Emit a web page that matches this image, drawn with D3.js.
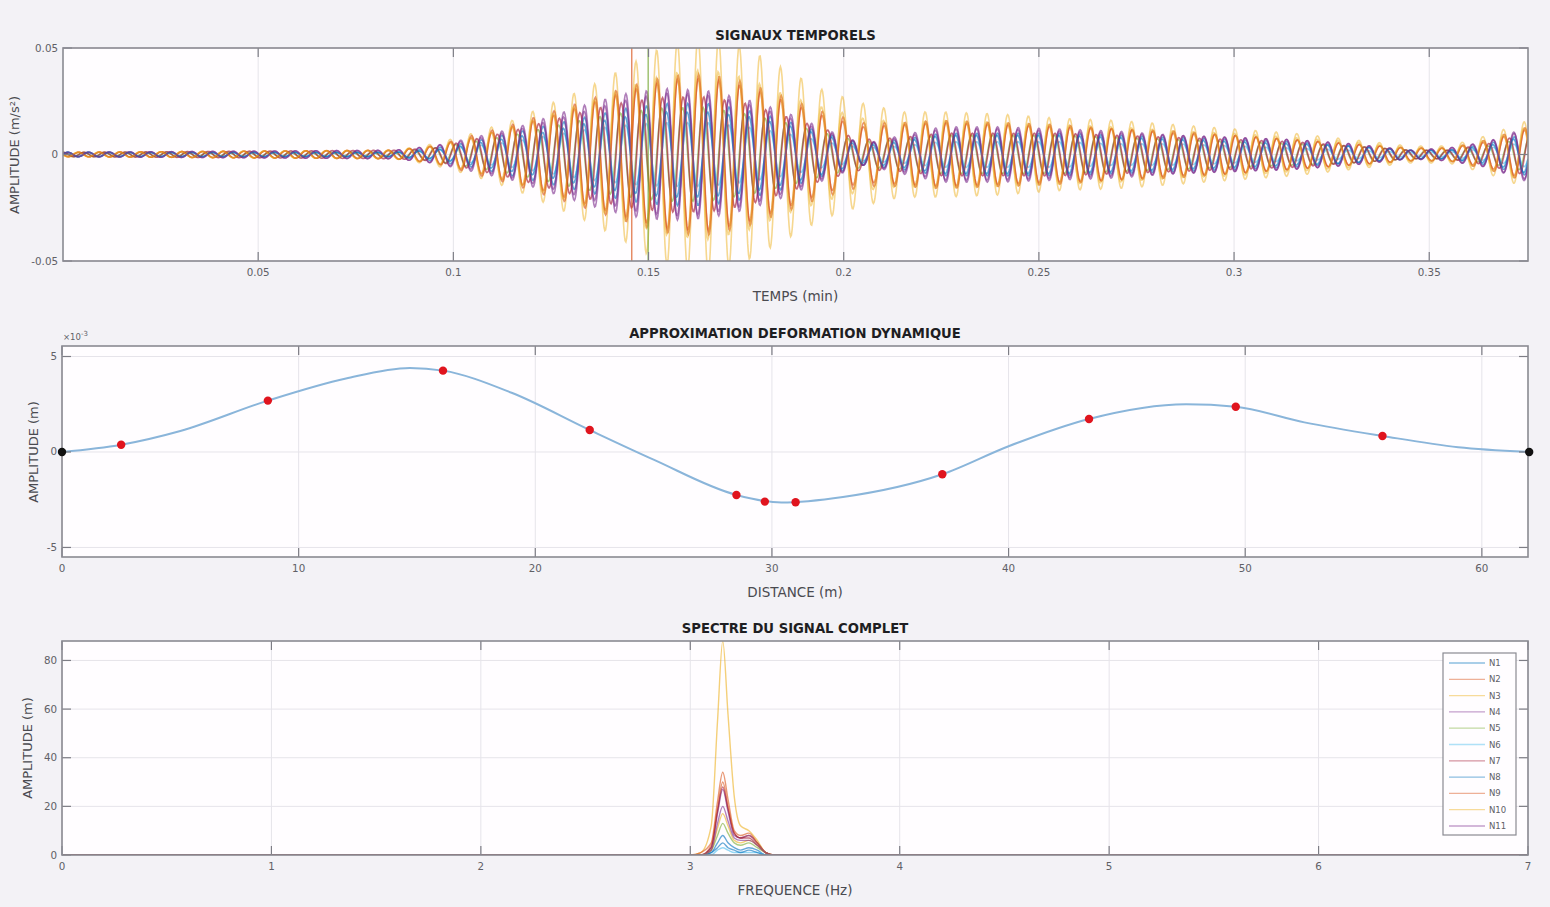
<!DOCTYPE html>
<html>
<head>
<meta charset="utf-8">
<script src="https://cdn.jsdelivr.net/npm/d3@7"></script>
<style>
  body { margin: 0; background: #f3f2f6; }
  svg { display: block; font-family: "DejaVu Sans", "Liberation Sans", Arial, sans-serif; }
</style>
</head>
<body>
<div id="chart"></div>
<script>
// ---- data -----------------------------------------------------------------

const seriesNames = ["N1","N2","N3","N4","N5","N6","N7","N8","N9","N10","N11"]
const colors = ["#0072BD","#D95319","#EDB120","#7E2F8E","#77AC30","#4DBEEE","#A2142F",
                "#0072BD","#D95319","#EDB120","#7E2F8E"]

// time signals: envelope of each record (x1e-3 m/s2) read at these times (min)
const envTimes = [0, 0.085, 0.095, 0.105, 0.115, 0.125, 0.135, 0.145, 0.155, 0.165, 0.175, 0.185,
                  0.195, 0.205, 0.215, 0.225, 0.24, 0.255, 0.27, 0.285, 0.3, 0.315, 0.33, 0.345,
                  0.355, 0.365, 0.3753]
const envN1  = [1,1,3,6,10,14,18,22,24,24,21,16,10,5,7,10,10,10,9,8,7,6,4,2,2,5,10]
const envN2  = [1,2,4,8,13,18,24,30,35,36,32,25,18,13,14,15,14,13,12,10,9,7,5,3,3,6,12]
const envN3  = [1,2,5,10,16,24,32,42,52,56,50,40,30,24,20,20,19,17,16,14,12,10,7,4,4,9,16]
const envN4  = [1,2,4,8,12,18,24,29,31,30,26,20,12,5,9,13,13,12,11,9,8,7,5,2,3,6,12]
const envN5  = [1,1,3,6,9,13,17,20,22,22,19,15,10,6,7,9,9,9,8,7,6,5,4,2,2,4,8]
const envN6  = [1,1,2,4,6,9,12,14,15,15,13,10,6,3,4,6,6,6,5,5,4,3,2,1,1,3,6]
const envN7  = [1,2,3,7,11,16,21,25,27,27,24,18,12,7,8,10,10,10,9,8,7,6,4,2,2,5,10]
const envN8  = [1,1,2,5,8,11,15,18,20,20,18,14,9,4,6,9,9,9,8,7,6,5,4,2,2,4,9]
const envN9  = [1,2,4,9,14,20,26,32,37,38,34,27,20,15,15,16,15,14,12,11,9,7,5,3,3,7,13]
const envN10 = [1,2,4,8,13,19,25,32,38,40,36,28,22,17,15,16,15,14,13,11,10,8,6,3,3,7,13]
const envN11 = [1,2,4,7,11,16,21,26,29,28,24,18,11,5,8,12,12,11,10,9,8,7,5,2,3,6,13]
const envelopes = [envN1,envN2,envN3,envN4,envN5,envN6,envN7,envN8,envN9,envN10,envN11]
// phase of each record (the orange/yellow group swings against the blue/purple group)
const phases = [0, 3.1, 3.2, 0, 1.6, 0.1, 1.4, 0.2, 3.0, 3.3, 0.1]
const carrierHz = 3.15          // dominant frequency, same as spectrum peak
// isolated glitches seen in the records
const glitches = [{ s: 8, t: 0.1457, v: 0.06 }, { s: 4, t: 0.1499, v: 0.06 }]

// dynamic deformation: sensor positions (m) and amplitudes (x1e-3 m)
const sensorX = [2.5, 8.7, 16.1, 22.3, 28.5, 29.7, 31.0, 37.2, 43.4, 49.6, 55.8]
const sensorY = [0.38, 2.69, 4.26, 1.15, -2.25, -2.6, -2.63, -1.17, 1.73, 2.37, 0.84]
const supportX = [0, 62]
const supportY = [0, 0]
// approximated curve
const curveX = [0, 2.5, 5, 8.7, 12, 14.7, 16.1, 19, 22.3, 25, 28.5, 30.4, 33, 37.2,
                40, 43.4, 47.5, 49.6, 52.5, 55.8, 59, 62]
const curveY = [0, 0.38, 1.1, 2.69, 3.85, 4.4, 4.26, 3.1, 1.15, -0.4, -2.25, -2.65,
                -2.36, -1.17, 0.3, 1.73, 2.5, 2.37, 1.55, 0.84, 0.25, 0]

// spectrum (m) at these frequencies (Hz)
const freqs = [0, 3.0, 3.05, 3.1, 3.13, 3.155, 3.18, 3.21, 3.24, 3.28, 3.32, 3.36, 3.4, 7]
const specN1  = [0,0,0,1,5,8,5,3,2,3,2,0,0,0]
const specN2  = [0,0,0,4,19,30,20,9,7,8,5,1,0,0]
const specN3  = [0,0,1,12,55,88,58,24,12,10,6,1,0,0]
const specN4  = [0,0,0,3,17,27,18,8,7,8,5,1,0,0]
const specN5  = [0,0,0,2,8,13,9,5,4,5,3,1,0,0]
const specN6  = [0,0,0,0,2,3,2,1,1,1,1,0,0,0]
const specN7  = [0,0,0,3,18,28,19,9,7,7,4,1,0,0]
const specN8  = [0,0,0,1,3,5,3,2,1,2,1,0,0,0]
const specN9  = [0,0,1,5,22,34,23,10,8,9,5,1,0,0]
const specN10 = [0,0,0,2,11,17,12,6,5,6,4,1,0,0]
const specN11 = [0,0,0,2,13,20,14,7,6,6,4,1,0,0]
const spectra = [specN1,specN2,specN3,specN4,specN5,specN6,specN7,specN8,specN9,specN10,specN11]

const tTicks = [0.05, 0.1, 0.15, 0.2, 0.25, 0.3, 0.35]
const dTicks = [0, 10, 20, 30, 40, 50, 60]
const fTicks = [0, 1, 2, 3, 4, 5, 6, 7]

// ---- drawing --------------------------------------------------------------

const width = 1550, height = 907

const svg = d3.select("#chart").append("svg")
    .attr("width", width).attr("height", height)

svg.append("rect").attr("width", width).attr("height", height).attr("fill", "#f3f2f6")

function panel(id, box, x, y, xt, yt, title, xlabel) {
  const g = svg.append("g")
  g.append("rect")
      .attr("x", box.l).attr("y", box.t)
      .attr("width", box.r - box.l).attr("height", box.b - box.t)
      .attr("fill", "#fffdff")
  g.append("clipPath").attr("id", id)
    .append("rect")
      .attr("x", box.l).attr("y", box.t)
      .attr("width", box.r - box.l).attr("height", box.b - box.t)

  // grid
  g.append("g").selectAll("line").data(xt).join("line")
      .attr("x1", d => x(d)).attr("x2", d => x(d))
      .attr("y1", box.t).attr("y2", box.b)
      .attr("stroke", "#e6e4ea").attr("stroke-width", 1)
  g.append("g").selectAll("line").data(yt).join("line")
      .attr("y1", d => y(d)).attr("y2", d => y(d))
      .attr("x1", box.l).attr("x2", box.r)
      .attr("stroke", "#e6e4ea").attr("stroke-width", 1)

  const plot = g.append("g").attr("clip-path", `url(#${id})`)

  const front = svg.append("g")
  // ticks, inside, all four sides
  const tk = 9
  const tickG = front.append("g").attr("stroke", "#7d7d85").attr("stroke-width", 1.2)
  xt.forEach(d => {
    tickG.append("line").attr("x1", x(d)).attr("x2", x(d)).attr("y1", box.b).attr("y2", box.b - tk)
    tickG.append("line").attr("x1", x(d)).attr("x2", x(d)).attr("y1", box.t).attr("y2", box.t + tk)
  })
  yt.forEach(d => {
    tickG.append("line").attr("y1", y(d)).attr("y2", y(d)).attr("x1", box.l).attr("x2", box.l + tk)
    tickG.append("line").attr("y1", y(d)).attr("y2", y(d)).attr("x1", box.r).attr("x2", box.r - tk)
  })
  front.append("rect")
      .attr("x", box.l).attr("y", box.t)
      .attr("width", box.r - box.l).attr("height", box.b - box.t)
      .attr("fill", "none").attr("stroke", "#8a8a92").attr("stroke-width", 1.6)

  front.append("g").selectAll("text").data(xt).join("text")
      .attr("x", d => x(d)).attr("y", box.b + 15)
      .attr("text-anchor", "middle").attr("font-size", 10.3).attr("fill", "#606066")
      .text(d => String(d))
  front.append("g").selectAll("text").data(yt).join("text")
      .attr("x", box.l - 5).attr("y", d => y(d) + 3.5)
      .attr("text-anchor", "end").attr("font-size", 10.3).attr("fill", "#606066")
      .text(d => String(d))

  front.append("text")
      .attr("x", (box.l + box.r) / 2).attr("y", box.t - 8)
      .attr("text-anchor", "middle").attr("font-size", 13.2).attr("font-weight", "bold")
      .attr("fill", "#1e1e22").text(title)
  front.append("text")
      .attr("x", (box.l + box.r) / 2).attr("y", box.b + 40)
      .attr("text-anchor", "middle").attr("font-size", 13.5).attr("fill", "#4a4a50")
      .text(xlabel)
  return { plot, front }
}

function ylabel(xPos, yPos, txt) {
  svg.append("text")
      .attr("transform", `translate(${xPos},${yPos}) rotate(-90)`)
      .attr("text-anchor", "middle").attr("font-size", 13).attr("fill", "#4a4a50")
      .text(txt)
}

// ---- panel 1 : time signals
const b1 = { l: 63, r: 1528, t: 48, b: 261 }
const x1 = d3.scaleLinear().domain([0, 0.3753]).range([b1.l, b1.r])
const y1 = d3.scaleLinear().domain([-0.05, 0.05]).range([b1.b, b1.t])
const p1 = panel("clip1", b1, x1, y1, tTicks, [-0.05, 0, 0.05],
    "SIGNAUX TEMPORELS", "TEMPS (min)")
ylabel(19, 155, "AMPLITUDE (m/s²)")

const sampleT = d3.range(0, 0.3753, 0.0002).concat([0.3753])
const line1 = d3.line().x(d => x1(d[0])).y(d => y1(d[1]))
envelopes.forEach((env, i) => {
  const envScale = d3.scaleLinear().domain(envTimes).range(env.map(v => v * 1e-3))
  const pts = sampleT.map(t => [t, envScale(t) * Math.sin(2 * Math.PI * carrierHz * 60 * t + phases[i])])
  p1.plot.append("path")
      .attr("d", line1(pts))
      .attr("fill", "none").attr("stroke", colors[i])
      .attr("stroke-width", 1.6).attr("stroke-opacity", colors[i] === "#EDB120" ? 0.5 : 0.62)
})
glitches.forEach(g => {
  p1.plot.append("line")
      .attr("x1", x1(g.t)).attr("x2", x1(g.t))
      .attr("y1", y1(g.v)).attr("y2", y1(-g.v))
      .attr("stroke", colors[g.s]).attr("stroke-width", 1.4).attr("stroke-opacity", 0.7)
})

// ---- panel 2 : deformation
const b2 = { l: 62, r: 1528, t: 346, b: 557 }
const x2 = d3.scaleLinear().domain([0, 61.95]).range([b2.l, b2.r])
const y2 = d3.scaleLinear().domain([-5.5, 5.55]).range([b2.b, b2.t])
const p2 = panel("clip2", b2, x2, y2, dTicks, [-5, 0, 5],
    "APPROXIMATION DEFORMATION DYNAMIQUE", "DISTANCE (m)")
ylabel(38, 452, "AMPLITUDE (m)")
svg.append("text").attr("x", b2.l + 1).attr("y", b2.t - 6)
    .attr("font-size", 8.5).attr("fill", "#606066")
    .html("×10<tspan dy='-4' font-size='7'>-3</tspan>")

const line2 = d3.line().x(d => x2(d[0])).y(d => y2(d[1])).curve(d3.curveMonotoneX)
p2.plot.append("path")
    .attr("d", line2(d3.zip(curveX, curveY)))
    .attr("fill", "none").attr("stroke", "#8ab5da").attr("stroke-width", 2)
p2.plot.append("g").selectAll("circle").data(d3.zip(sensorX, sensorY)).join("circle")
    .attr("cx", d => x2(d[0])).attr("cy", d => y2(d[1])).attr("r", 4.2)
    .attr("fill", "#e0141e")
p2.front.append("g").selectAll("circle").data(d3.zip(supportX, supportY)).join("circle")
    .attr("cx", d => x2(d[0])).attr("cy", d => y2(d[1])).attr("r", 4.2)
    .attr("fill", "#111")

// ---- panel 3 : spectrum
const b3 = { l: 62, r: 1528, t: 641, b: 855 }
const x3 = d3.scaleLinear().domain([0, 7]).range([b3.l, b3.r])
const y3 = d3.scaleLinear().domain([0, 88]).range([b3.b, b3.t])
const p3 = panel("clip3", b3, x3, y3, fTicks, [0, 20, 40, 60, 80],
    "SPECTRE DU SIGNAL COMPLET", "FREQUENCE (Hz)")
ylabel(32, 748, "AMPLITUDE (m)")

const line3 = d3.line().x(d => x3(d[0])).y(d => y3(d[1])).curve(d3.curveMonotoneX)
spectra.forEach((s, i) => {
  p3.plot.append("path")
      .attr("d", line3(d3.zip(freqs, s)))
      .attr("fill", "none").attr("stroke", colors[i])
      .attr("stroke-width", 1.4).attr("stroke-opacity", 0.6)
})

// legend
const lg = svg.append("g").attr("transform", "translate(1443,653)")
lg.append("rect").attr("width", 73).attr("height", 182)
    .attr("fill", "#fffdff").attr("stroke", "#8a8a92").attr("stroke-width", 1.2)
const rows = lg.selectAll("g").data(seriesNames).join("g")
    .attr("transform", (d, i) => `translate(0,${10 + i * 16.3})`)
rows.append("line").attr("x1", 6).attr("x2", 42)
    .attr("stroke", (d, i) => colors[i]).attr("stroke-width", 1.3).attr("stroke-opacity", 0.45)
rows.append("text").attr("x", 46).attr("y", 3).attr("font-size", 8.5).attr("fill", "#606066")
    .text(d => d)
</script>
</body>
</html>
